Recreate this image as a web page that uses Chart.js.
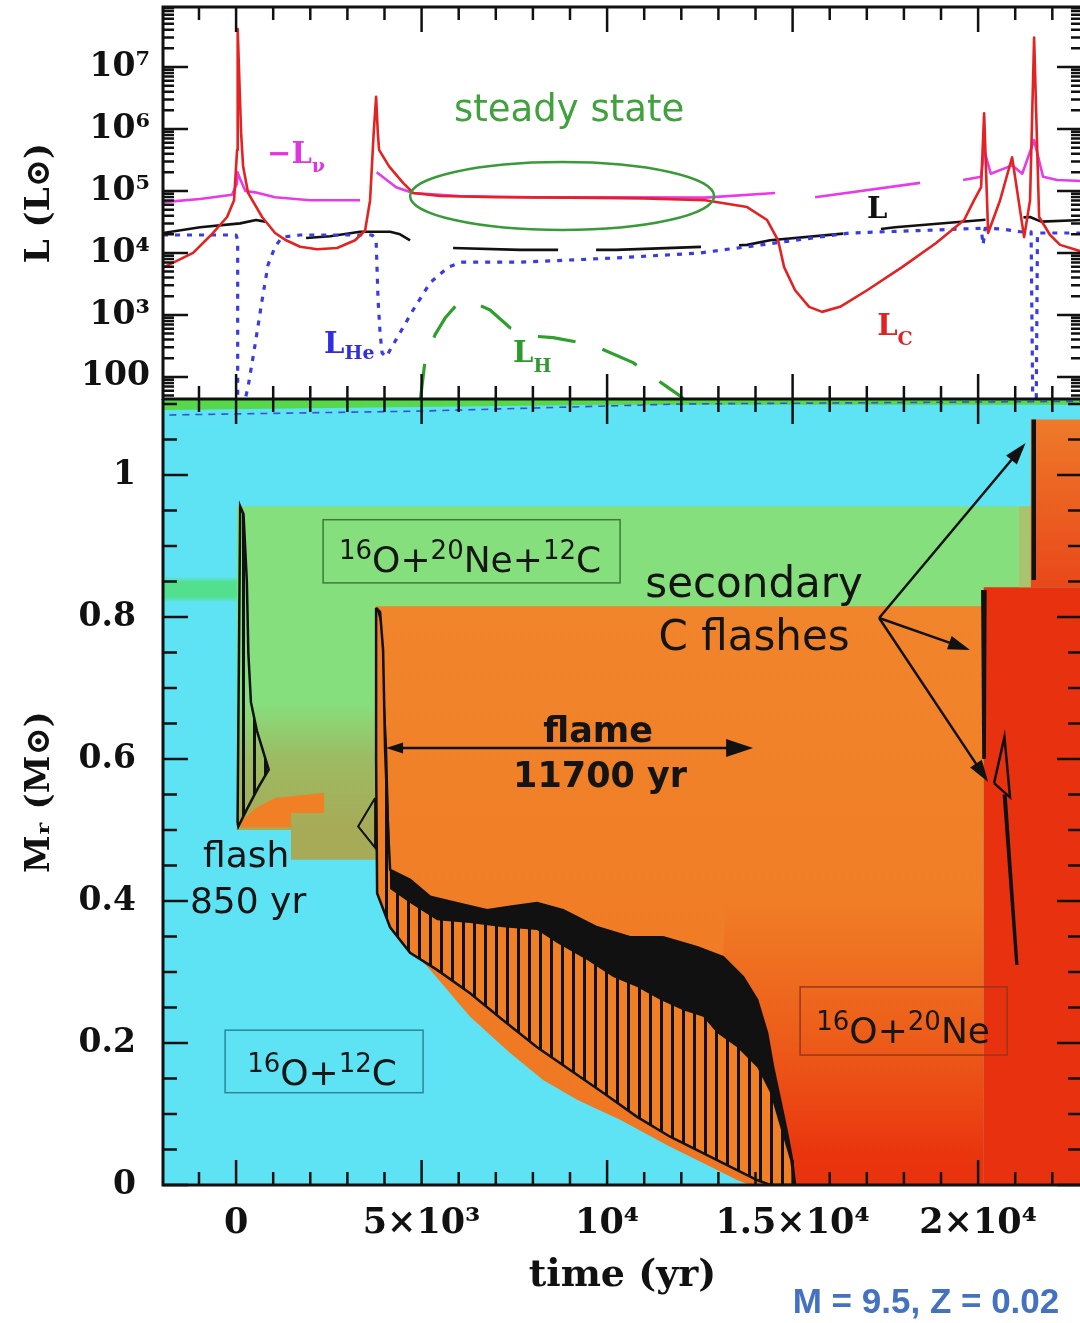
<!DOCTYPE html>
<html lang="en">
<head>
<meta charset="UTF-8">
<title>Carbon flash, flame and secondary flashes, M = 9.5</title>
<style>
  html, body { margin: 0; padding: 0; background: #fff; overflow: hidden; width: 1080px; height: 1323px; }
  canvas { position: absolute; left: 0; }
  #lumChart { top: 0; }
  #kippChart { top: 399px; }
</style>
<script src="https://cdn.jsdelivr.net/npm/chart.js"></script>
</head>
<body>
<canvas id="lumChart" width="1084" height="400"></canvas>
<canvas id="kippChart" width="1084" height="924"></canvas>
<script>
// ---- axes
const tMin = -1970, tMax = 22800;
const lumMin = 44, lumMax = 9.3e7;
const massMax = 1.107;

const timeTicks = [0, 5000, 10000, 15000, 20000];
const timeLabels = ['0', '5×10³', '10⁴', '1.5×10⁴', '2×10⁴'];
const lumTicks = [100, 1e3, 1e4, 1e5, 1e6, 1e7];
const lumLabels = ['100', '10³', '10⁴', '10⁵', '10⁶', '10⁷'];
const massTicks = [0, 0.2, 0.4, 0.6, 0.8, 1];
const massLabels = ['0', '0.2', '0.4', '0.6', '0.8', '1'];

// ---- top panel, luminosities in L_sun against time in yr
// L_C (carbon burning)
const lcT = [-1970, -1159, -620, -243, -54, 27, 43, 135, 189, 323, 701, 1051, 1348, 1725, 2183, 2722, 3208, 3477, 3612, 3709,
  3774, 3820, 3854, 4124, 4501, 4771, 5500, 7000, 9000, 11000, 12642, 13774, 14313, 14609, 14771, 15067, 15445, 15795, 16280,
  17008, 17951, 18868, 19623, 19892, 20081, 20162, 20270, 20593, 20916, 21240, 21400, 21509, 21644, 21940, 22210, 22800];
const lcL = [5800, 1.0e4, 2.1e4, 3.8e4, 7.1e4, 4.6e5, 4.1e7, 8.7e5, 2.5e5, 9.3e4, 3.8e4, 2.1e4, 1.6e4, 1.26e4, 1.15e4, 1.2e4, 1.6e4, 2.3e4, 7.1e4, 8.7e5,
  3.3e6, 8.7e5, 4.6e5, 2.5e5, 1.35e5, 9.3e4, 8.3e4, 7.9e4, 7.8e4, 7.6e4, 7.1e4, 5.5e4, 3.4e4, 1.6e4, 5900, 2500, 1350, 1120, 1350,
  2500, 5900, 1.45e4, 3.4e4, 7.1e4, 1.15e5, 1.8e6, 2.1e4, 7.1e4, 3.5e5, 1.8e4, 7.1e4, 3.0e7, 3.8e4, 1.95e4, 1.35e4, 1.05e4];
// -L_nu (neutrino losses)
const lnuT = [-1970, -970, -110, 20, 43, 100, 250, 512, 1051, 1995, 3340, 3560, 3790, 4313, 4771, 6000, 8000, 10000, 12640, 14528,
  15000, 15606, 18437, 19000, 19596, 20081, 20162, 20340, 20780, 20916, 21190, 21509, 21750, 22130, 22800];
const lnuL = [6.6e4, 7.4e4, 8.7e4, 1.3e5, 2.0e5, 1.6e5, 1.0e5, 9.5e4, 7.9e4, 7.1e4, 7.1e4, null, 2.0e5, 1.15e5, 9.3e4, 8.3e4, 7.9e4, 7.9e4, 7.8e4, 9.3e4,
  null, 7.9e4, 1.35e5, null, 1.5e5, 1.7e5, 4.6e5, 1.9e5, 2.4e5, 2.6e5, 1.9e5, 6.6e5, 1.7e5, 1.5e5, 1.45e5];
// L (surface), solid early part and dashed later part
const lSolidT = [-1970, -970, 108, 539, 782, 1300, 1887, 2534, 3342, 4151, 4420, 4690];
const lSolidL = [2.1e4, 2.6e4, 3.0e4, 3.4e4, 3.2e4, null, 1.74e4, 1.86e4, 2.2e4, 2.2e4, 2.0e4, 1.6e4];
const lDashT = [5849, 7655, 10243, 12642, 13774, 14394, 16550, 17763, 20620, 21400, 21700, 22800];
const lDashL = [1.2e4, 1.12e4, 1.12e4, 1.26e4, 1.35e4, 1.6e4, 2.1e4, 2.6e4, 3.6e4, 3.8e4, 3.2e4, 3.4e4];
// L_He
const lheT = [-1970, 0, 43, 43, 150, 243, 323, 512, 701, 863, 1051, 1240, 1725, 3666, 3774, 3827, 3881, 3935, 4043, 4313,
  4771, 5229, 5714, 6065, 7655, 10243, 12507, 13774, 16550, 18410, 20081, 20135, 20189, 20593, 21132, 21428, 21482, 21560, 21600, 22800];
const lheL = [1.95e4, 1.95e4, 1.6e4, 10, 10, 43, 69, 330, 1740, 6500, 1.26e4, 1.8e4, 1.95e4, 1.95e4, 1.6e4, 1740, 510, 245, 210, 400,
  1200, 3300, 5900, 7100, 7100, 8300, 1.0e4, 1.26e4, 2.1e4, 2.3e4, 2.5e4, 1.35e4, 2.5e4, 2.45e4, 2.2e4, 2.2e4, 10, 10, 2.1e4, 2.1e4];
// L_H
const lhT = [4960, 5094, 5364, 5633, 5984, 6361, 6846, 7385, 8113, 8544, 9596, 10701, 11617, 11995, 12237];
const lhL = [40, 186, 480, 890, 1550, 1620, 1200, 620, 450, 430, 330, 170, 69, 48, 35];

// ---- bottom panel, composition zones: time (yr) against M_r (M_sun)
const cyanT = [-2500, 23500, 23500, -2500];        const cyanM = [0, 0, 1.12, 1.12];
const envT = [-2500, 23500, 23500, 10000, -2500];  const envM = [1.12, 1.12, 1.099, 1.099, 1.091];
const bandT = [-2500, 40, 40, -2500];              const bandM = [0.82, 0.82, 0.857, 0.857];
const coneT = [20, 21420, 21420, 20];              const coneM = [0.5, 0.5, 0.956, 0.956];
const oliveT = [20, 3770, 3770, 1480, 1480, 20];   const oliveM = [0.68, 0.68, 0.458, 0.458, 0.5, 0.5];
const patchT = [135, 1480, 1480, 2370, 2370, 1050, 500, 135];
const patchM = [0.504, 0.504, 0.524, 0.524, 0.552, 0.545, 0.53, 0.512];
const oneT = [3760, 20150, 20150, 13854, 13504, 12588, 11698, 10350, 9191, 8275, 7385, 6307, 5229, 4501, 4151, 3801, 3780, 3760];
const oneM = [0.815, 0.815, 0, 0, 0.007, 0.031, 0.054, 0.092, 0.12, 0.148, 0.186, 0.237, 0.303, 0.345, 0.37, 0.411, 0.46, 0.6];
const deepT = [13200, 20150, 20150, 15067, 14852, 14474, 14043, 13666, 13127];
const deepM = [0.4, 0.4, 0, 0, 0.073, 0.166, 0.261, 0.293, 0.321];
const redT = [20150, 23500, 23500, 20150];         const redM = [0, 0, 0.842, 0.842];
const stubT = [21100, 21420, 21420, 21100];        const stubM = [0.842, 0.842, 0.956, 0.956];
const colT = [21420, 23500, 23500, 21420];         const colM = [0.842, 0.842, 1.078, 1.078];
const edgeT = [-2500, 5000, 12000, 23500];         const edgeM = [1.084, 1.09, 1.1, 1.104];

// convective / burning zones
const f1T = [40, 110, 200, 290, 330, 400, 560, 880, 600, 300, 60, 40];
const f1M = [0.51, 0.956, 0.945, 0.85, 0.75, 0.68, 0.64, 0.585, 0.56, 0.53, 0.505, 0.51];
// flame: upper edge, lower edge, and lower edge of the dense black part
const ftT = [3774, 3881, 3962, 4016, 4097, 4151, 4690, 5229, 5957, 6765, 7385, 8113, 8814, 9730, 10620, 11509, 12426, 13127,
  13666, 14043, 14313, 14474, 14663, 14852, 14987, 15067];
const ftM = [0.813, 0.807, 0.754, 0.613, 0.5, 0.444, 0.43, 0.406, 0.397, 0.387, 0.392, 0.397, 0.387, 0.363, 0.349, 0.349, 0.335, 0.321,
  0.293, 0.261, 0.214, 0.166, 0.12, 0.073, 0.035, 0];
const fbT = [3774, 3801, 4151, 4690, 5418, 6307, 7197, 8113, 9003, 9892, 10809, 11698, 12588, 13504, 14043, 14394];
const fbM = [0.6, 0.411, 0.363, 0.327, 0.303, 0.27, 0.232, 0.194, 0.162, 0.13, 0.096, 0.068, 0.045, 0.021, 0.007, 0];
const fbandT = [3900, 4070, 4130, 4151, 4690, 5418, 6307, 7197, 8113, 8652, 9461, 10162, 10809, 11429, 12049, 12588, 12965,
  13504, 14043, 14394, 14663, 14933, 15013];
const fbandM = [0.79, 0.62, 0.5, 0.417, 0.397, 0.373, 0.369, 0.363, 0.359, 0.341, 0.317, 0.293, 0.279, 0.261, 0.246, 0.237, 0.214,
  0.194, 0.166, 0.13, 0.082, 0.035, 0.003];
const tri2T = [3747, 3290, 3747, 3747];            const tri2M = [0.545, 0.505, 0.475, 0.545];
const sec1T = [20080, 20230, 20210, 20110];        const sec1M = [0.838, 0.838, 0.6, 0.6];
const sec2T = [20430, 20710, 20860, 20430];        const sec2M = [0.566, 0.631, 0.546, 0.566];
const sec3T = [20660, 20770, 21090, 21000];        const sec3M = [0.55, 0.55, 0.31, 0.31];
const sec4T = [21440, 21560, 21560, 21440];        const sec4M = [1.078, 1.078, 0.852, 0.852];

// ---- helpers
const pts = (ts, vs) => ts.map((t, i) => ({ x: t, y: vs[i] }));
const serif = "'DejaVu Serif', serif";
const sans = "'DejaVu Sans', sans-serif";
const ink = '#111';

function lineSet(ts, vs, color, width, dash) {
  return { data: pts(ts, vs), borderColor: color, borderWidth: width, borderDash: dash || [],
    pointRadius: 0, fill: false, tension: 0, borderJoinStyle: 'round', spanGaps: false };
}
function zone(ts, ms, color, extra) {
  return Object.assign({ data: pts(ts, ms), backgroundColor: color, borderColor: 'rgba(0,0,0,0)', borderWidth: 0,
    pointRadius: 0, fill: 'shape', tension: 0 }, extra || {});
}
function vGrad(stops) {
  return (c) => {
    const ch = c.chart, ys = ch.scales.y;
    if (!ch.chartArea || !ys) return stops[0][1];
    const p0 = ys.getPixelForValue(stops[0][0]), p1 = ys.getPixelForValue(stops[stops.length - 1][0]);
    const g = ch.ctx.createLinearGradient(0, p0, 0, p1);
    stops.forEach(([m, col]) => g.addColorStop((ys.getPixelForValue(m) - p0) / (p1 - p0), col));
    return g;
  };
}
function stripes(ctx, bg) {
  const c = document.createElement('canvas');
  c.width = 11; c.height = 4;
  const g = c.getContext('2d');
  if (bg) { g.fillStyle = bg; g.fillRect(0, 0, 11, 4); }
  g.fillStyle = ink; g.fillRect(0, 0, 3, 4);
  return ctx.createPattern(c, 'repeat');
}
function fixedWidth(w) {
  return (s) => { s.width = w; s.paddingTop = 0; s.paddingBottom = 0; };
}

// inward tick marks on all four sides plus the frame
function frameTicks(xTicks, yTicks) {
  return {
    id: 'frameTicks',
    afterDraw(chart) {
      const { ctx, chartArea: a, scales: { x, y } } = chart;
      ctx.save();
      ctx.strokeStyle = ink; ctx.lineWidth = 2.5;
      ctx.beginPath();
      xTicks.forEach(([v, len]) => {
        const px = x.getPixelForValue(v);
        ctx.moveTo(px, a.bottom); ctx.lineTo(px, a.bottom - len);
        ctx.moveTo(px, a.top); ctx.lineTo(px, a.top + len);
      });
      yTicks.forEach(([v, len]) => {
        const py = y.getPixelForValue(v);
        ctx.moveTo(a.left, py); ctx.lineTo(a.left + len, py);
        ctx.moveTo(a.right, py); ctx.lineTo(a.right - len, py);
      });
      ctx.stroke();
      ctx.lineWidth = 3;
      ctx.strokeRect(a.left, a.top, a.right - a.left, a.bottom - a.top);
      ctx.restore();
    }
  };
}

const timeTickMarks = [];
for (let t = -1000; t <= 22000; t += 1000) timeTickMarks.push([t, timeTicks.includes(t) ? 25 : 13]);
const lumTickMarks = [];
for (let e = 1; e <= 7; e++) {
  for (let k = 1; k <= 9; k++) {
    const v = k * Math.pow(10, e);
    if (v >= lumMin && v <= lumMax) lumTickMarks.push([v, k === 1 ? 25 : 11]);
  }
}
const massTickMarks = [];
for (let i = 0; i <= 22; i++) massTickMarks.push([i * 0.05, i % 4 === 0 ? 25 : 14]);

// ---- top panel
const steady = { t0: 4690, t1: 12884, lTop: 2.94e5, lBot: 2.35e4, textT: 8976, textL: 1.35e6 };
const lumNotes = [
  { t: 836, L: 2.83e5, main: '−L', sub: 'ν', color: '#e035e0', dy: 9 },
  { t: 17008, L: 3.67e4, main: 'L', sub: '', color: ink, dy: 0 },
  { t: 2372, L: 244, main: 'L', sub: 'He', color: '#2f2fe0', dy: 6 },
  { t: 7466, L: 175, main: 'L', sub: 'H', color: '#2e9a2e', dy: 10 },
  { t: 17278, L: 475, main: 'L', sub: 'C', color: '#e02222', dy: 10 }
];
const lumNotesPlugin = {
  id: 'lumNotes',
  afterDatasetsDraw(chart) {
    const { ctx, scales: { x, y } } = chart;
    ctx.save();
    const ex0 = x.getPixelForValue(steady.t0), ex1 = x.getPixelForValue(steady.t1);
    const ey0 = y.getPixelForValue(steady.lTop), ey1 = y.getPixelForValue(steady.lBot);
    ctx.strokeStyle = '#3a9a3a'; ctx.lineWidth = 2.5;
    ctx.beginPath();
    ctx.ellipse((ex0 + ex1) / 2, (ey0 + ey1) / 2, (ex1 - ex0) / 2, (ey1 - ey0) / 2, 0, 0, Math.PI * 2);
    ctx.stroke();
    ctx.fillStyle = '#40a23c'; ctx.font = '37px ' + sans; ctx.textAlign = 'center'; ctx.textBaseline = 'alphabetic';
    ctx.fillText('steady state', x.getPixelForValue(steady.textT), y.getPixelForValue(steady.textL));
    ctx.textAlign = 'left';
    lumNotes.forEach(n => {
      const px = x.getPixelForValue(n.t), py = y.getPixelForValue(n.L);
      ctx.fillStyle = n.color;
      ctx.font = 'bold 29px ' + serif;
      ctx.fillText(n.main, px, py);
      const w = ctx.measureText(n.main).width;
      ctx.font = 'bold 19px ' + serif;
      ctx.fillText(n.sub, px + w, py + n.dy);
    });
    ctx.restore();
  }
};

new Chart(document.getElementById('lumChart'), {
  type: 'line',
  data: {
    datasets: [
      lineSet(lcT, lcL, '#e32222', 2.6),
      lineSet(lnuT, lnuL, '#e83be8', 2.6),
      lineSet(lheT, lheL, '#3a3ae6', 3.2, [5, 7]),
      lineSet(lSolidT, lSolidL, ink, 2.6),
      lineSet(lDashT, lDashL, ink, 2.6, [105, 38]),
      lineSet(lhT, lhL, '#2ea02e', 3.2, [38, 28])
    ]
  },
  options: {
    responsive: false, animation: false,
    layout: { autoPadding: false, padding: { top: 7, bottom: 1, left: 0, right: 2 } },
    plugins: { legend: { display: false }, tooltip: { enabled: false } },
    scales: {
      x: { type: 'linear', min: tMin, max: tMax, display: false },
      y: {
        type: 'logarithmic', min: lumMin, max: lumMax,
        afterFit: fixedWidth(163),
        afterBuildTicks: (s) => { s.ticks = lumTicks.map(v => ({ value: v })); },
        grid: { display: false, drawTicks: false }, border: { display: false },
        ticks: { autoSkip: false, padding: 13, color: ink, font: { family: serif, size: 33, weight: 'bold' },
          callback: (v) => { const i = lumTicks.indexOf(v); return i < 0 ? '' : lumLabels[i]; } },
        title: { display: true, text: 'L (L⊙)', color: ink, font: { family: serif, size: 34, weight: 'bold' }, padding: { top: 20 } }
      }
    }
  },
  plugins: [lumNotesPlugin, frameTicks(timeTickMarks, lumTickMarks)]
});

// ---- bottom panel
const kippCanvas = document.getElementById('kippChart');
const kctx = kippCanvas.getContext('2d');
const flameHatch = stripes(kctx, '#f07f26');
const flashHatch = stripes(kctx, null);

const flamePoly = { t: ftT.concat(fbT.slice().reverse(), [ftT[0]]), m: ftM.concat(fbM.slice().reverse(), [ftM[0]]) };
const bandPoly = { t: ftT.concat(fbandT.slice().reverse()), m: ftM.concat(fbandM.slice().reverse()) };

const zones = [
  zone(cyanT, cyanM, '#5ee3f4'),
  zone(envT, envM, '#56d84a'),
  zone(bandT, bandM, vGrad([[0.857, '#5ee3f4'], [0.849, '#52df8e'], [0.829, '#52df8e'], [0.82, '#5ee3f4']])),
  zone(coneT, coneM, '#86df7d'),
  zone(oliveT, oliveM, vGrad([[0.68, '#86df7d'], [0.6, '#9dbb62'], [0.5, '#a7aa57'], [0.458, '#a7aa57']])),
  zone(patchT, patchM, '#f07f26'),
  zone(oneT, oneM, vGrad([[0.815, '#f1852b'], [0.3, '#f07c25'], [0, '#ef7522']])),
  zone(deepT, deepM, vGrad([[0.4, 'rgba(234,66,16,0)'], [0.22, 'rgba(234,66,16,0.48)'], [0.04, 'rgba(233,52,14,1)'], [0, 'rgba(233,50,14,1)']])),
  zone(redT, redM, '#e8320f'),
  zone(stubT, stubM, '#a9c46e'),
  zone(colT, colM, vGrad([[1.078, '#ee7a2a'], [0.842, '#e9481a']])),
  zone(flamePoly.t, flamePoly.m, flameHatch, { borderColor: ink, borderWidth: 2.5 }),
  zone(bandPoly.t, bandPoly.m, ink),
  zone(f1T, f1M, flashHatch, { borderColor: ink, borderWidth: 2.5 }),
  zone(tri2T, tri2M, 'rgba(0,0,0,0)', { borderColor: ink, borderWidth: 2, fill: false }),
  zone(sec1T, sec1M, ink),
  zone(sec2T, sec2M, 'rgba(0,0,0,0)', { borderColor: ink, borderWidth: 2.5, fill: false }),
  zone(sec3T, sec3M, ink),
  zone(sec4T, sec4M, ink),
  lineSet(edgeT, edgeM, '#3852c8', 1.6, [7, 6])
];
zones.forEach((d, i) => { d.order = -i; });

const kippNotes = {
  boxes: [
    { t0: 2345, t1: 10350, m0: 0.848, m1: 0.937, edge: '#3d7a38', parts: [['16', 'O+'], ['20', 'Ne+'], ['12', 'C']], tc: 6307, mb: 0.863 },
    { t0: -296, t1: 5040, m0: 0.130, m1: 0.218, edge: '#2a8896', parts: [['16', 'O+'], ['12', 'C']], tc: 2318, mb: 0.141 },
    { t0: 15202, t1: 20782, m0: 0.183, m1: 0.279, edge: '#96391a', parts: [['16', 'O+'], ['20', 'Ne']], tc: 17978, mb: 0.2 }
  ],
  texts: [
    { s: 'flash', t: 270, m: 0.448, font: '36px ' + sans },
    { s: '850 yr', t: 323, m: 0.383, font: '36px ' + sans },
    { s: 'secondary', t: 13962, m: 0.828, font: '42px ' + sans },
    { s: 'C flashes', t: 13962, m: 0.754, font: '42px ' + sans },
    { s: 'flame', t: 9757, m: 0.624, font: 'bold 35px ' + sans },
    { s: '11700 yr', t: 9811, m: 0.561, font: 'bold 35px ' + sans }
  ],
  flameArrow: { t0: 4043, t1: 13935, m: 0.6155 },
  fan: { t: 17332, m: 0.7986, tips: [[21280, 1.045], [19784, 0.7535], [20270, 0.5676]] }
};

function arrowHead(ctx, x0, y0, x1, y1, len, half) {
  const a = Math.atan2(y1 - y0, x1 - x0), c = Math.cos(a), s = Math.sin(a);
  ctx.beginPath();
  ctx.moveTo(x1, y1);
  ctx.lineTo(x1 - len * c + half * s, y1 - len * s - half * c);
  ctx.lineTo(x1 - len * c - half * s, y1 - len * s + half * c);
  ctx.closePath();
  ctx.fill();
}

const kippNotesPlugin = {
  id: 'kippNotes',
  afterDatasetsDraw(chart) {
    const { ctx, scales: { x, y } } = chart;
    ctx.save();
    ctx.textBaseline = 'alphabetic';
    kippNotes.boxes.forEach(b => {
      const x0 = x.getPixelForValue(b.t0), x1 = x.getPixelForValue(b.t1);
      const y0 = y.getPixelForValue(b.m1), y1 = y.getPixelForValue(b.m0);
      ctx.strokeStyle = b.edge; ctx.lineWidth = 1.5;
      ctx.strokeRect(x0, y0, x1 - x0, y1 - y0);
      let w = 0;
      b.parts.forEach(([a, e]) => {
        ctx.font = '26px ' + sans; w += ctx.measureText(a).width;
        ctx.font = '36px ' + sans; w += ctx.measureText(e).width;
      });
      let px = x.getPixelForValue(b.tc) - w / 2;
      const py = y.getPixelForValue(b.mb);
      ctx.fillStyle = '#161616'; ctx.textAlign = 'left';
      b.parts.forEach(([a, e]) => {
        ctx.font = '26px ' + sans; ctx.fillText(a, px, py - 13); px += ctx.measureText(a).width;
        ctx.font = '36px ' + sans; ctx.fillText(e, px, py); px += ctx.measureText(e).width;
      });
    });
    ctx.textAlign = 'center'; ctx.fillStyle = '#141414';
    kippNotes.texts.forEach(n => {
      ctx.font = n.font;
      ctx.fillText(n.s, x.getPixelForValue(n.t), y.getPixelForValue(n.m));
    });
    // flame arrow
    ctx.strokeStyle = ink; ctx.fillStyle = ink; ctx.lineWidth = 2.5;
    const fa = kippNotes.flameArrow;
    const ax0 = x.getPixelForValue(fa.t0), ax1 = x.getPixelForValue(fa.t1), ay = y.getPixelForValue(fa.m);
    ctx.beginPath(); ctx.moveTo(ax0 + 6, ay); ctx.lineTo(ax1 - 20, ay); ctx.stroke();
    arrowHead(ctx, ax1, ay, ax0, ay, 17, 5.5);
    arrowHead(ctx, ax0, ay, ax1, ay, 27, 9);
    // secondary flash pointers
    const f = kippNotes.fan, ox = x.getPixelForValue(f.t), oy = y.getPixelForValue(f.m);
    f.tips.forEach(([t, m]) => {
      const tx = x.getPixelForValue(t), ty = y.getPixelForValue(m);
      const a = Math.atan2(ty - oy, tx - ox);
      ctx.beginPath(); ctx.moveTo(ox, oy); ctx.lineTo(tx - 16 * Math.cos(a), ty - 16 * Math.sin(a)); ctx.stroke();
      arrowHead(ctx, ox, oy, tx, ty, 22, 7);
    });
    ctx.restore();
  },
  afterDraw(chart) {
    const { ctx } = chart;
    ctx.save();
    ctx.fillStyle = '#4472c0'; ctx.font = "bold 35px 'Liberation Sans', Arial, sans-serif";
    ctx.textAlign = 'center'; ctx.textBaseline = 'alphabetic';
    ctx.fillText('M = 9.5, Z = 0.02', 926, 914);
    ctx.restore();
  }
};

new Chart(kippCanvas, {
  type: 'line',
  data: { datasets: zones },
  options: {
    responsive: false, animation: false,
    layout: { autoPadding: false, padding: { top: 0, bottom: 0, left: 0, right: 2 } },
    plugins: { legend: { display: false }, tooltip: { enabled: false } },
    scales: {
      x: {
        type: 'linear', min: tMin, max: tMax,
        afterFit: (s) => { s.height = 138; s.paddingLeft = 0; s.paddingRight = 0; },
        afterBuildTicks: (s) => { s.ticks = timeTicks.map(v => ({ value: v })); },
        grid: { display: false, drawTicks: false }, border: { display: false },
        ticks: { autoSkip: false, maxRotation: 0, padding: 18, color: ink, font: { family: serif, size: 35, weight: 'bold' },
          callback: (v) => { const i = timeTicks.indexOf(v); return i < 0 ? '' : timeLabels[i]; } },
        title: { display: true, text: 'time (yr)', color: ink, font: { family: serif, size: 38, weight: 'bold' }, padding: { bottom: 24 } }
      },
      y: {
        type: 'linear', min: 0, max: massMax,
        afterFit: fixedWidth(163),
        afterBuildTicks: (s) => { s.ticks = massTicks.map(v => ({ value: v })); },
        grid: { display: false, drawTicks: false }, border: { display: false },
        ticks: { autoSkip: false, padding: 27, color: ink, font: { family: serif, size: 33, weight: 'bold' },
          callback: (v) => { const i = massTicks.indexOf(v); return i < 0 ? '' : massLabels[i]; } },
        title: { display: true, text: 'Mᵣ (M⊙)', color: ink, font: { family: serif, size: 34, weight: 'bold' }, padding: { top: 20 } }
      }
    }
  },
  plugins: [kippNotesPlugin, frameTicks(timeTickMarks, massTickMarks)]
});
</script>
</body>
</html>
